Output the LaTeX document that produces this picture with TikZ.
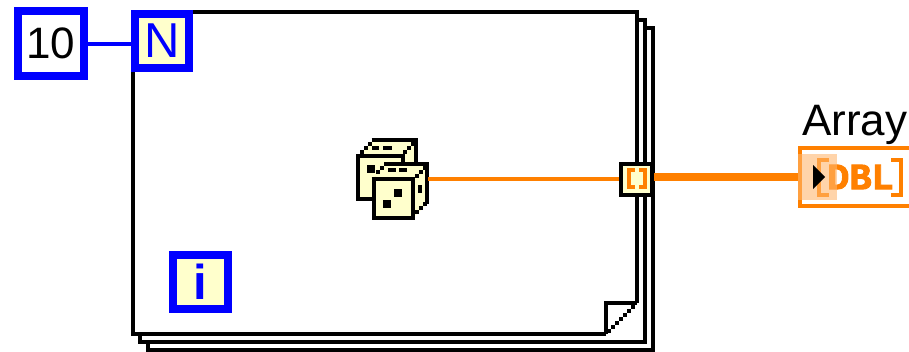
\documentclass[tikz,border=0pt]{standalone}
\usepackage{fontspec}
\setmainfont{Liberation Sans}
\newfontfamily\dblfont{Liberation Mono}[BoldFeatures={FakeBold=2.5}]
\definecolor{lvblue}{HTML}{0000FF}
\definecolor{lvorange}{HTML}{FF8000}
\definecolor{lvcream}{HTML}{FFFFCC}
\definecolor{lvpeach}{RGB}{255,183,110}
\tikzset{
  px/.style={x=1pt,y=-1pt},
  bluebox/.style={draw=lvblue,line width=8pt,inner sep=0pt,text=lvblue},
  loopline/.style={draw=black,line width=4pt,miter limit=10,line join=miter},
  dieedge/.style={draw=black,line width=4pt,line cap=butt,line join=miter},
  pip/.style={fill=black},
  wirethin/.style={draw=lvorange,line width=4pt},
  wirethick/.style={draw=lvorange,line width=8pt},
  wireblue/.style={draw=lvblue,line width=4pt},
  bracketo/.style={draw=lvorange,line width=4pt,line join=miter},
}
% staircase of touching 12x12 squares in the dice's zoomed grid: start x, start y, count, x step
\newcommand{\lvstair}[4]{\foreach \k in {1,...,#3}{\fill[black] ({#1+(\k-1)*(#4)},{#2+(\k-1)*12}) rectangle ++(12,12);}}
\begin{document}
\begin{tikzpicture}[px]
\useasboundingbox (0,0) rectangle (909,351);
% back pages
\draw[loopline] (148,344) -- (148,349.5) -- (652.5,349.5) -- (652.5,28) -- (647,28);
\draw[loopline] (140,336) -- (140,342) -- (645,342) -- (645,20) -- (639,20);
% main page
\fill[white] (133,12) -- (637,12) -- (637,303) -- (606,334) -- (133,334) -- cycle;
\draw[loopline] (606,334) -- (133,334) -- (133,12) -- (637,12) -- (637,303);
\draw[loopline] (606,334) -- (606,303) -- (637,303);
\foreach \k in {0,...,6}{\fill[black] ({631-4*\k},{305+4*\k}) rectangle ++(4,4);}
% terminals
\node[bluebox,fill=white,minimum width=66pt,minimum height=65pt,font=\fontsize{44}{44}\selectfont,text=black] (ten) at (51,43.5) {10};
\node[bluebox,fill=lvcream,minimum width=54pt,minimum height=54pt,font=\fontsize{49}{49}\selectfont] (nbox) at (162,41) {N};
\node[bluebox,fill=lvcream,minimum width=55pt,minimum height=54pt,font=\fontsize{49}{49}\selectfont\bfseries] (ibox) at (200.5,282) {i};
\draw[wireblue] (ten.east) -- (ten.east -| nbox.west);
% dice
\begin{scope}[shift={(340,125)},x=0.3333pt,y=-0.3333pt]
  % back die
  \fill[lvcream] (100,46) -- (229,46) -- (229,130) -- (190,222) -- (54,222) -- (54,94) -- cycle;
  \draw[dieedge] (95,46) -- (229,46) -- (229,120);
  \draw[dieedge] (54,88) -- (54,222) -- (110,222);
  \draw[dieedge] (54,94) -- (190,94) -- (190,160);
  \lvstair{84}{52}{3}{-12}
  \lvstair{212}{52}{3}{-12}
  \fill[pip] (80,120) rectangle (104,144);
  \fill[pip] (130,64) rectangle (155,76);
  \fill[pip] (96,64) rectangle (118,76);
  % front die
  \fill[lvcream] (146,118) -- (262,118) -- (262,236) -- (219,279) -- (101,279) -- (101,161) -- cycle;
  \draw[dieedge] (140,118) -- (262,118) -- (262,236);
  \draw[dieedge] (101,155) -- (101,279) -- (225,279);
  \draw[dieedge] (95,161) -- (219,161) -- (219,285);
  \lvstair{131}{112}{3}{-12}
  \lvstair{250}{124}{3}{-12}
  \lvstair{250}{230}{3}{-12}
  \fill[pip] (162,192) rectangle (186,216);
  \fill[pip] (130,226) rectangle (154,250);
  \fill[pip] (234,180) rectangle (246,204);
  \fill[pip] (145,130) rectangle (168,142);
  \fill[pip] (178,130) rectangle (200,142);
\end{scope}
\coordinate (diceout) at (428,179);
% tunnel
\node[draw=black,line width=4pt,fill=lvcream,inner sep=0pt,minimum width=31pt,minimum height=31pt] (tunnel) at (636.5,179.5) {};
\draw[bracketo] (635,170) -- (629,170) -- (629,187) -- (635,187);
\draw[bracketo] (639,170) -- (645,170) -- (645,187) -- (639,187);
\draw[wirethin] (diceout) -- (diceout -| tunnel.west);
% indicator
\node[fill=white,inner sep=0pt,minimum width=111pt,minimum height=62pt] (ind) at (853.5,177) {};
\draw[wirethick] (ind.west -| tunnel.east) -- (ind.west);
\draw[bracketo] (909,148) -- (800,148) -- (800,206) -- (909,206);
\draw[bracketo] (829,160) -- (819,160) -- (819,195) -- (829,195);
\draw[bracketo] (891,160) -- (901,160) -- (901,195) -- (891,195);
\node[inner sep=0pt,text=lvorange,font=\dblfont\bfseries\fontsize{37}{37}\selectfont] (dbl) at (860.5,177) {DBL};
\fill[lvpeach,opacity=0.583] (798,154) rectangle (837,200);
\fill[black] (813,165) -- (825,177) -- (813,189) -- cycle;
\node[inner sep=0pt,anchor=base west,font=\fontsize{44}{44}\selectfont,text=black] (arr) at (802,135) {Array};
\end{tikzpicture}
\end{document}
